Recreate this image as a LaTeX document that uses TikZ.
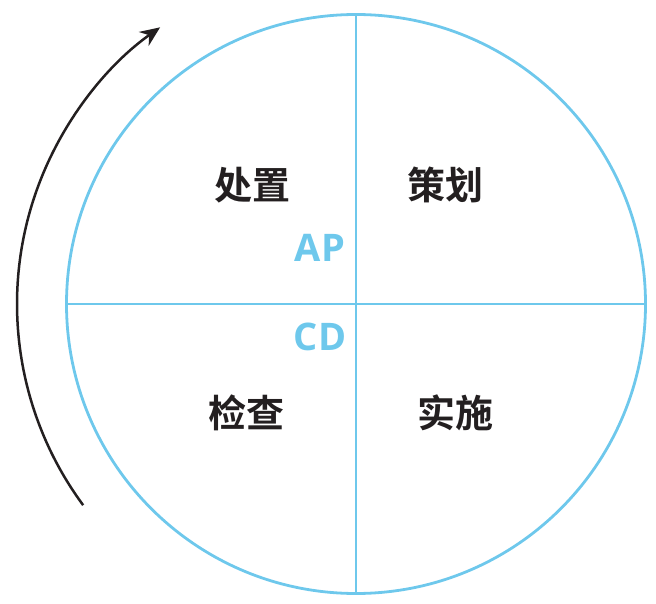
\documentclass[tikz,border=0pt]{standalone}
\usepackage{fontspec}
\setmainfont{Open Sans}
\newfontfamily\cjk{Noto Sans CJK SC}[BoldFont={* Bold}]
\usetikzlibrary{arrows.meta}
\definecolor{lblue}{RGB}{110,200,236}
\definecolor{txt}{RGB}{35,31,32}
\tikzset{
  ring/.style={draw=lblue,line width=2.8pt},
  cn/.style={font=\cjk\bfseries\fontsize{38}{38}\selectfont,text=txt,inner sep=0pt},
  lat/.style={font=\bfseries\fontsize{38}{38}\selectfont,text=lblue,inner sep=0pt},
  cycle/.style={draw=txt,line width=2.5pt,-{Stealth[length=20pt,width=17pt]}}
}
\begin{document}
\begin{tikzpicture}[x=1pt,y=-1pt]
\useasboundingbox (0,0) rectangle (656,604);
\coordinate (o) at (356,304);
\node[circle,ring,minimum size=579pt,inner sep=0pt] (c) at (o) {};
\draw[ring] (c.west) -- (c.east);
\draw[ring] (c.north) -- (c.south);
\node[cn] (a) at (252,185) {处置};
\node[cn] (p) at (445,185) {策划};
\node[cn] (k) at (246,413) {检查};
\node[cn] (d) at (455,413) {实施};
\node[lat] (ap) at (320,248) {AP};
\node[lat] (cd) at (320,337) {CD};
\coordinate (s) at ([shift={(143.6:339)}]o);
\draw[cycle] (s) arc[start angle=143.6,end angle=234.7,radius=339];
\end{tikzpicture}
\end{document}
